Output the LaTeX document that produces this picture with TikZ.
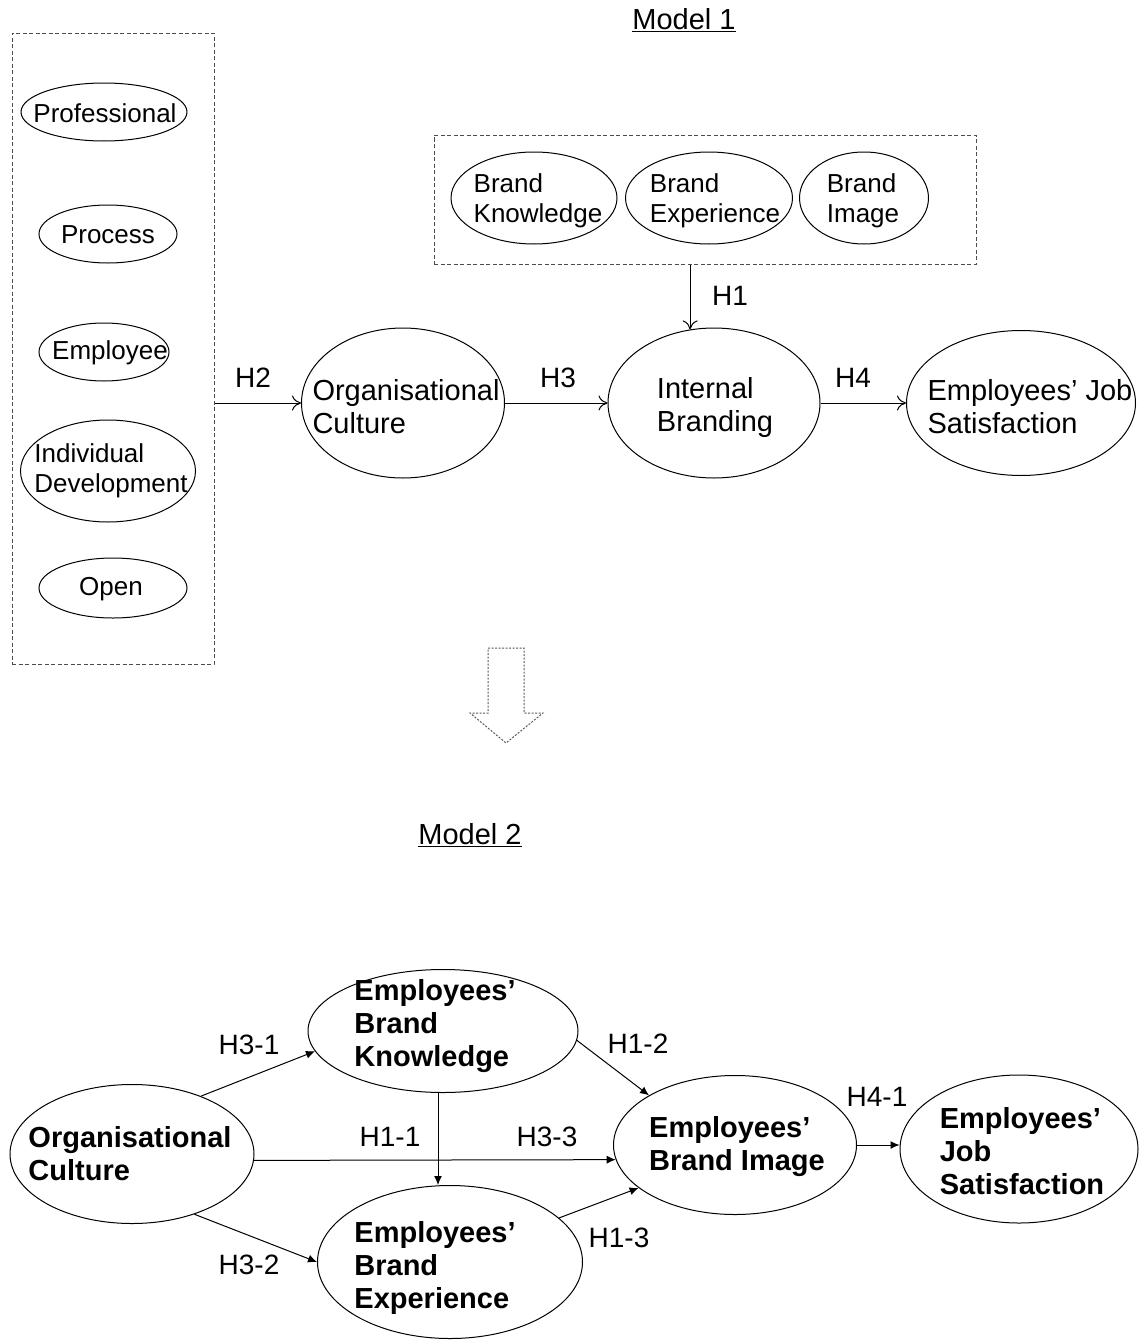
\documentclass[tikz,border=0pt]{standalone}
\usepackage{fontspec}
\setmainfont{Liberation Sans}
\usetikzlibrary{arrows.meta,shapes.geometric}
\begin{document}
\begin{tikzpicture}[x=1pt,y=-1pt,
  ell/.style={draw, ellipse, line width=1pt, inner sep=0pt},
  sm/.style={font=\fontsize{26}{30}\selectfont, align=left, inner sep=0pt},
  big/.style={font=\fontsize{29}{33}\selectfont, align=left, inner sep=0pt},
  bld/.style={font=\fontsize{29}{33}\selectfont\bfseries, align=left, inner sep=0pt},
  lab/.style={font=\fontsize{28}{33}\selectfont, inner sep=0pt},
  dbox/.style={draw=black!70, dash pattern=on 4pt off 2.5pt, line width=1pt, inner sep=0pt},
  arr/.style={-{To[length=9pt,width=15pt]}, line width=1pt},
  arrf/.style={-{Latex[length=9pt,width=8pt]}, line width=1pt}]
\useasboundingbox (0,0) rectangle (1143,1341);

% ---------------- Model 1 ----------------
\node[lab, font=\fontsize{29}{33}\selectfont] (m1) at (684,20) {\underline{Model 1}};

% culture dimensions
\node[dbox, minimum width=202pt, minimum height=631pt] (dim) at (113,348.5) {};
\node[ell, minimum width=166pt, minimum height=58pt] (prof) at (104,112) {};
\node[sm] (proft) at (105,113) {Professional};
\node[ell, minimum width=138pt, minimum height=58pt] (proc) at (108,234) {};
\node[sm] (proct) at (108,235) {Process};
\node[ell, minimum width=130pt, minimum height=58pt] (empl) at (104,352) {};
\node[sm] (emplt) at (110,353) {Employee};
\node[ell, minimum width=175pt, minimum height=102pt] (indiv) at (108,471) {};
\node[sm] (indivt) at (111,471) {Individual\\Development};
\node[ell, minimum width=148pt, minimum height=60pt] (open) at (113,588) {};
\node[sm] (opent) at (111,589) {Open};

% internal branding dimensions
\node[dbox, minimum width=542pt, minimum height=129pt] (brand) at (705,199.5) {};
\node[ell, minimum width=166pt, minimum height=92pt] (bk) at (534,198) {};
\node[sm] (bkt) at (538,201) {Brand\\Knowledge};
\node[ell, minimum width=167pt, minimum height=92pt] (be) at (709,198) {};
\node[sm] (bet) at (715,201) {Brand\\Experience};
\node[ell, minimum width=129pt, minimum height=92pt] (bi) at (864,198) {};
\node[sm] (bit) at (863,201) {Brand\\Image};

% main constructs
\node[ell, minimum width=203pt, minimum height=150pt] (oc) at (403,403) {};
\node[big] (oct) at (406,407) {Organisational\\Culture};
\node[ell, minimum width=212pt, minimum height=150pt] (ib) at (714,403) {};
\node[big] (ibt) at (715,407) {Internal\\Branding};
\node[ell, minimum width=229pt, minimum height=145pt] (ejs) at (1021,403) {};
\node[big] (ejst) at (1030,407) {Employees’ Job\\Satisfaction};

\draw[arr] (dim.east |- oc.west) -- (oc.west);
\draw[arr] (oc.east) -- (ib.west);
\draw[arr] (ib.east) -- (ejs.west);
\draw[arr] (ib.108 |- brand.south) -- (ib.108);

\node[lab] (h2) at (253,378) {H2};
\node[lab] (h3) at (558,378) {H3};
\node[lab] (h4) at (853,378) {H4};
\node[lab] (h1) at (730,296) {H1};

% transition arrow
\draw[black!65, dash pattern=on 2pt off 1.5pt, line width=1pt]
  (488,648) -- (524,648) -- (524,713) -- (543,713) -- (506,743)
  -- (470,713) -- (488,713) -- cycle;

% ---------------- Model 2 ----------------
\node[lab, font=\fontsize{29}{33}\selectfont] (m2) at (470,835) {\underline{Model 2}};

\node[ell, minimum width=244pt, minimum height=139pt] (oc2) at (132,1154) {};
\node[bld] (oc2t) at (130,1154) {Organisational\\Culture};
\node[ell, minimum width=270pt, minimum height=123pt] (ebk) at (443,1031) {};
\node[bld] (ebkt) at (435,1026) {Employees’\\Brand\\Knowledge};
\node[ell, minimum width=265pt, minimum height=153pt] (ebe) at (450,1262) {};
\node[bld] (ebet) at (435,1268) {Employees’\\Brand\\Experience};
\node[ell, minimum width=243pt, minimum height=139pt] (ebi) at (735,1145) {};
\node[bld] (ebit) at (737,1147) {Employees’\\Brand Image};
\node[ell, minimum width=238pt, minimum height=148pt] (ejs2) at (1019,1149) {};
\node[bld] (ejs2t) at (1022,1151) {Employees’\\Job\\Satisfaction};

\draw[arrf] (oc2.40) -- (ebk.189);
\draw[arrf] (oc2.-44) -- (ebe.180);
\draw[arrf] ([xshift=-5pt]ebk.south) -- ([xshift=-5pt]ebk.south |- ebe.north);
\draw[arrf] (oc2.-3) -- (ebi.187);
\draw[arrf] (ebk.-4) -- (ebi.150);
\draw[arrf] (ebe.22) -- (ebi.204);
\draw[arrf] (ebi.east) -- (ebi.east -| ejs2.west);

\node[lab] (h31) at (249,1045) {H3-1};
\node[lab] (h32) at (249,1265) {H3-2};
\node[lab] (h11) at (390,1137) {H1-1};
\node[lab] (h33) at (547,1137) {H3-3};
\node[lab] (h12) at (638,1044) {H1-2};
\node[lab] (h13) at (619,1238) {H1-3};
\node[lab] (h41) at (877,1097) {H4-1};
\end{tikzpicture}
\end{document}
